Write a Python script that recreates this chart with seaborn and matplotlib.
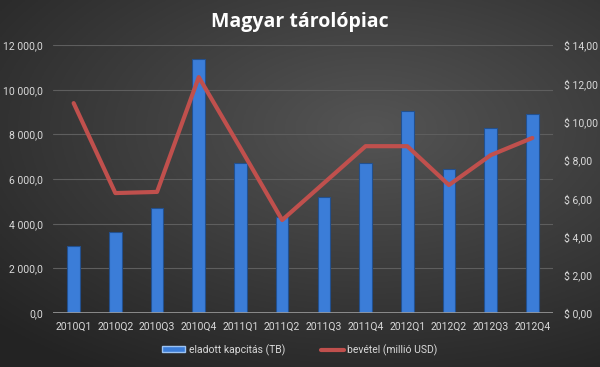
import numpy as np
import pandas as pd
import matplotlib
matplotlib.use("Agg")
import matplotlib.pyplot as plt
import matplotlib.ticker as mticker
from matplotlib.lines import Line2D
from matplotlib.patches import Patch
import seaborn as sns

sns.set_style("dark")
plt.rcParams["font.family"] = ["Roboto", "DejaVu Sans"]

# data
quarters = ["2010Q1", "2010Q2", "2010Q3", "2010Q4",
            "2011Q1", "2011Q2", "2011Q3", "2011Q4",
            "2012Q1", "2012Q2", "2012Q3", "2012Q4"]
capacity_tb = [3000, 3630, 4700, 11370, 6720, 4280, 5180, 6720, 9050, 6450, 8280, 8910]
revenue_musd = [10.97, 6.27, 6.33, 12.33, 8.62, 4.86, 6.79, 8.72, 8.72, 6.69, 8.25, 9.15]

df = pd.DataFrame({"quarter": quarters, "capacity": capacity_tb, "revenue": revenue_musd})

TEXT = "#d9d9d9"
BAR = "#3b7dd8"
LINE = "#c0504d"

fig = plt.figure(figsize=(6.0, 3.67), dpi=100)

# dark gradient background
bg = fig.add_axes([0, 0, 1, 1], zorder=-10)
yy, xx = np.mgrid[0:1:200j, 0:1:300j]
dist = np.sqrt(((xx - 0.62) / 1.0) ** 2 + ((yy - 0.35) / 0.9) ** 2)
shade = np.clip(0.33 - 0.22 * dist, 0.14, 0.34)
bg.imshow(np.dstack([shade, shade, shade]), aspect="auto", extent=[0, 1, 0, 1], origin="upper")
bg.axis("off")

ax = fig.add_axes([0.088, 0.147, 0.834, 0.730])
ax.set_facecolor("none")

sns.barplot(data=df, x="quarter", y="capacity", color=BAR, width=0.3,
            saturation=1, edgecolor="#22508f", linewidth=0.8, ax=ax, zorder=3)

ax2 = ax.twinx()
sns.lineplot(data=df, x="quarter", y="revenue", color=LINE, linewidth=3,
             sort=False, ax=ax2, zorder=4)

ax.set_xlim(-0.5, len(quarters) - 0.5)
ax.set_ylim(0, 12000)
ax2.set_ylim(0, 14)
ax.set_yticks(np.arange(0, 12001, 2000))
ax2.set_yticks(np.arange(0, 14.01, 2))

ax.yaxis.set_major_formatter(mticker.FuncFormatter(
    lambda v, p: f"{v:,.1f}".replace(",", " ").replace(".", ",")))
ax2.yaxis.set_major_formatter(mticker.FuncFormatter(
    lambda v, p: "$ " + f"{v:.2f}".replace(".", ",")))

for a in (ax, ax2):
    a.set_xlabel("")
    a.set_ylabel("")
    for s in a.spines.values():
        s.set_visible(False)
    a.tick_params(length=0, colors=TEXT, labelsize=7.5)
ax.tick_params(axis="x", pad=6)
ax.tick_params(axis="y", pad=7)
ax2.tick_params(axis="y", pad=8)

ax.grid(axis="y", color="#5e5e5e", linewidth=0.8, zorder=0)
ax.grid(axis="x", visible=False)
ax2.grid(False)
ax.axhline(0, color="#9a9a9a", linewidth=1.2, zorder=5)

fig.text(0.5, 0.94, "Magyar tárolópiac", ha="center", va="center",
         color="white", fontsize=14, fontweight="bold", family=["Open Sans", "DejaVu Sans"])

handles = [Patch(facecolor=BAR, edgecolor="#9cc3f2", label="eladott kapcitás (TB)"),
           Line2D([0], [0], color=LINE, linewidth=3, label="bevétel (millió USD)")]
fig.legend(handles=handles, loc="center", bbox_to_anchor=(0.5, 0.047), ncol=2,
           frameon=False, fontsize=7.5, labelcolor=TEXT, handlelength=2.2,
           handleheight=0.5, columnspacing=3.5, handletextpad=0.3)

fig.savefig("out.png", dpi=100)
